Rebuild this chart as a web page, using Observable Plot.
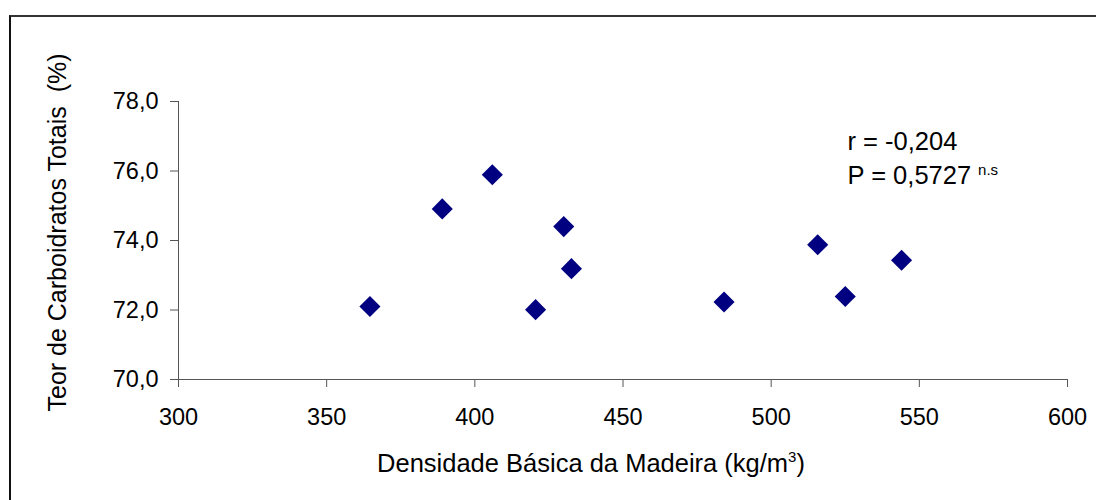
<!DOCTYPE html>
<html>
<head>
<meta charset="utf-8">
<script src="https://cdn.jsdelivr.net/npm/d3@7"></script>
<script src="https://cdn.jsdelivr.net/npm/@observablehq/plot@0.6"></script>
<style>
  html, body { margin: 0; padding: 0; background: #fff; }
  #wrap { position: relative; width: 1096px; height: 500px; overflow: hidden; }
  #frame { position: absolute; left: 9px; top: 15px; width: 1200px; height: 600px;
           border-top: 2px solid #333; border-left: 2px solid #111; pointer-events: none; }
  #chart { position: absolute; left: 0; top: 0; }
</style>
</head>
<body>
<div id="wrap"><div id="chart"></div><div id="frame"></div></div>
<script>
// Data
const density = [364.6, 389.0, 405.9, 430.0, 432.6, 420.5, 484.1, 515.7, 525.0, 544.0];
const carbs   = [72.10, 74.91, 75.89, 74.40, 73.19, 72.01, 72.23, 73.88, 72.39, 73.43];
const xTicks = [300, 350, 400, 450, 500, 550, 600];
const yTicks = [70, 72, 74, 76, 78];
const xTitle = "Densidade Básica da Madeira (kg/m";
const xTitleSup = "3";
const xTitleEnd = ")";
const yTitle = "Teor de Carboidratos Totais  (%)";
const statLines = ["r = -0,204", "P = 0,5727"];
const statSup = "n.s";

const points = density.map((d, i) => ({x: d, y: carbs[i]}));
const fmt = d => d.toFixed(1).replace(".", ",");

const font = "'Liberation Sans', Arial, sans-serif";

const plot = Plot.plot({
  width: 1096,
  height: 500,
  marginLeft: 178,
  marginRight: 29,
  marginTop: 101,
  marginBottom: 121,
  style: {fontFamily: font, fontSize: "23.5px", color: "#000", background: "transparent"},
  x: {domain: [300, 600], ticks: xTicks},
  y: {domain: [70, 78], ticks: yTicks},
  marks: [
    Plot.axisX({ticks: xTicks, tickSize: 8, tickPadding: 21, label: null, stroke: "#555", fontSize: 23.5}),
    Plot.axisY({ticks: yTicks, tickSize: 8, tickPadding: 12, tickFormat: fmt, label: null, stroke: "#555", fontSize: 23.5}),
    Plot.ruleY([70], {stroke: "#555"}),
    Plot.ruleX([300], {stroke: "#555"}),
    Plot.dot(points, {x: "x", y: "y", symbol: "diamond2", r: 9.5, fill: "#000080", stroke: "none"}),
    Plot.text([statLines[0]], {frameAnchor: "top-right", dx: -220 , dy: 48, textAnchor: "start", lineAnchor: "bottom", fontSize: 25.5, fill: "#000"}),
    Plot.text([statLines[1]], {frameAnchor: "top-right", dx: -220, dy: 82, textAnchor: "start", lineAnchor: "bottom", fontSize: 25.5, fill: "#000", className: "pline"}),
    Plot.text([xTitle], {frameAnchor: "bottom", dx: -32, dy: 92, textAnchor: "middle", fontSize: 25.5, fill: "#000", className: "xtitle"}),
    Plot.text([yTitle], {frameAnchor: "left", dx: -121, dy: -8, rotate: -90, textAnchor: "middle", fontSize: 25, fill: "#000", className: "ytitle"})
  ]
});

document.getElementById("chart").appendChild(plot);

// superscripts
const sv = d3.select(plot);
sv.selectAll(".pline text").each(function() {
  const t = d3.select(this);
  t.append("tspan").attr("dx", 7).attr("dy", -9).attr("font-size", 15).text(statSup);
});
sv.selectAll(".xtitle text").each(function() {
  const t = d3.select(this);
  t.append("tspan").attr("dy", -10).attr("font-size", 15).text(xTitleSup);
  t.append("tspan").attr("dy", 10).text(xTitleEnd);
});
sv.selectAll(".ytitle text").style("white-space", "pre");
</script>
</body>
</html>
